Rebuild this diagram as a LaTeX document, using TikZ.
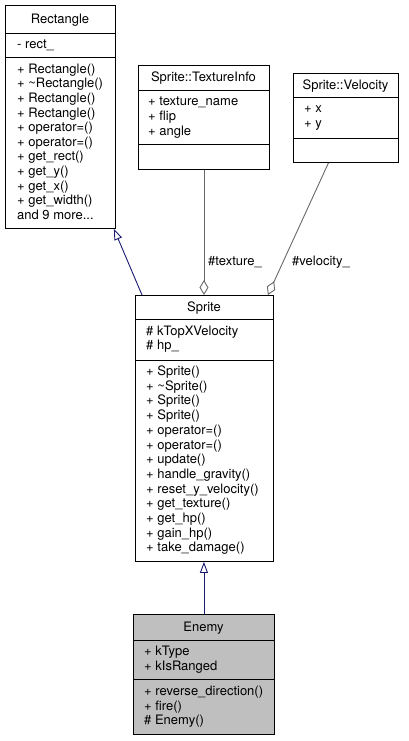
\documentclass[tikz,border=0pt]{standalone}
\usepackage{fontspec}
\setmainfont{TeX Gyre Heros}
\usetikzlibrary{arrows.meta}
\definecolor{inheritblue}{RGB}{25,25,112}
\definecolor{composegray}{RGB}{104,104,104}
\definecolor{enemyfill}{RGB}{191,191,191}
\newcommand\moredots{...}
\tikzset{
  classbox/.style={draw, line width=0.9pt, inner sep=0pt, anchor=north west},
  member/.style={anchor=base west, inner sep=0pt},
  classname/.style={anchor=base, inner sep=0pt},
  inherit/.style={inheritblue, line width=0.9pt, -{Triangle[open, length=11pt, width=8pt]}},
  compose/.style={composegray, line width=0.9pt, -{Diamond[open, length=15pt, width=9pt]}},
}
\begin{document}
\begin{tikzpicture}[x=1pt, y=-1pt, font=\fontsize{13}{14.6}\selectfont]
    \useasboundingbox (0,0) rectangle (409,741);

    % Rectangle
    \node[classbox, minimum width=110pt, minimum height=223pt] (rect) at (5,5) {};
    \draw[line width=0.9pt] (rect.west |- 0,33) -- (rect.east |- 0,33)
                            (rect.west |- 0,57) -- (rect.east |- 0,57);
    \node[classname] (rect-name) at (60,23.5) {Rectangle};
    \node[member] (rect-a0) at (17,49) {- rect\_};
    \foreach \m [count=\i from 0] in {+ Rectangle(), + \textasciitilde Rectangle(), + Rectangle(),
        + Rectangle(), + operator=(), + operator=(), + get\_rect(), + get\_y(), + get\_x(),
        + get\_width(), and 9 more\moredots}
        \node[member] (rect-m\i) at (17,73.3+14.6*\i) {\m};

    % Sprite::TextureInfo
    \node[classbox, minimum width=131pt, minimum height=104pt] (texinfo) at (138,65) {};
    \draw[line width=0.9pt] (texinfo.west |- 0,90) -- (texinfo.east |- 0,90)
                            (texinfo.west |- 0,144) -- (texinfo.east |- 0,144);
    \node[classname] (texinfo-name) at (203.5,82) {Sprite::TextureInfo};
    \foreach \m [count=\i from 0] in {+ texture\_name, + flip, + angle}
        \node[member] (texinfo-a\i) at (148,106+14.6*\i) {\m};

    % Sprite::Velocity
    \node[classbox, minimum width=105pt, minimum height=89pt] (vel) at (293,73) {};
    \draw[line width=0.9pt] (vel.west |- 0,97) -- (vel.east |- 0,97)
                            (vel.west |- 0,138) -- (vel.east |- 0,138);
    \node[classname] (vel-name) at (345.5,89.5) {Sprite::Velocity};
    \foreach \m [count=\i from 0] in {+ x, + y}
        \node[member] (vel-a\i) at (304,113+14.6*\i) {\m};

    % Sprite
    \node[classbox, minimum width=138pt, minimum height=266pt] (sprite) at (135,295) {};
    \draw[line width=0.9pt] (sprite.west |- 0,319) -- (sprite.east |- 0,319)
                            (sprite.west |- 0,360) -- (sprite.east |- 0,360);
    \node[classname] (sprite-name) at (204,311) {Sprite};
    \foreach \m [count=\i from 0] in {\# kTopXVelocity, \# hp\_}
        \node[member] (sprite-a\i) at (146,335+14.6*\i) {\m};
    \foreach \m [count=\i from 0] in {+ Sprite(), + \textasciitilde Sprite(), + Sprite(), + Sprite(),
        + operator=(), + operator=(), + update(), + handle\_gravity(), + reset\_y\_velocity(),
        + get\_texture(), + get\_hp(), + gain\_hp(), + take\_damage()}
        \node[member] (sprite-m\i) at (146,375.5+14.7*\i) {\m};

    % Enemy
    \node[classbox, fill=enemyfill, minimum width=141pt, minimum height=120pt] (enemy) at (133,614) {};
    \draw[line width=0.9pt] (enemy.west |- 0,640) -- (enemy.east |- 0,640)
                            (enemy.west |- 0,679) -- (enemy.east |- 0,679);
    \node[classname] (enemy-name) at (203.5,631) {Enemy};
    \foreach \m [count=\i from 0] in {+ kType, + kIsRanged}
        \node[member] (enemy-a\i) at (144,655.5+14.6*\i) {\m};
    \foreach \m [count=\i from 0] in {+ reverse\_direction(), + fire(), \# Enemy()}
        \node[member] (enemy-m\i) at (144,695.5+14.6*\i) {\m};

    % relations
    \draw[inherit] ([xshift=7pt]sprite.north west) -- ([xshift=-2pt]rect.south east);
    \draw[inherit] (enemy.north) -- (enemy.north |- sprite.south);
    \draw[compose] (texinfo.south) -- (texinfo.south |- sprite.north);
    \draw[compose] ([xshift=-17.5pt]vel.south) -- ([xshift=-6pt]sprite.north east);
    \node[member] (texture-label) at (208,265) {\#texture\_};
    \node[member] (velocity-label) at (292,265) {\#velocity\_};
\end{tikzpicture}
\end{document}
